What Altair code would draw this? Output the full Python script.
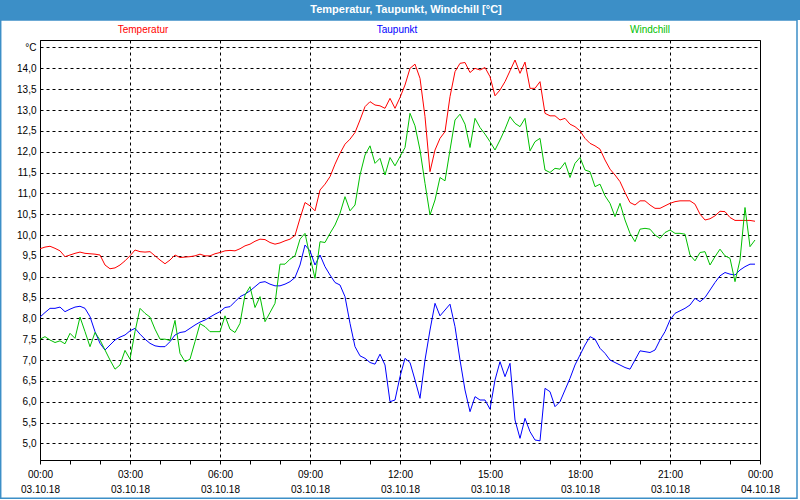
import altair as alt
import pandas as pd

names = ["Temperatur", "Taupunkt", "Windchill"]
colors = ["#ff0000", "#0000ff", "#00c000"]

# time of day in minutes, one reading every 10 minutes (00:00 .. 23:50)
minutes = list(range(0, 1440, 10))

temperatur = [
    9.67, 9.71, 9.73, 9.68, 9.62, 9.48, 9.52, 9.56, 9.59, 9.56, 9.55, 9.54,
    9.52, 9.28, 9.19, 9.21, 9.28, 9.38, 9.50, 9.64, 9.60, 9.59, 9.60, 9.50,
    9.40, 9.31, 9.40, 9.52, 9.46, 9.47, 9.48, 9.50, 9.54, 9.50, 9.50, 9.55,
    9.58, 9.62, 9.63, 9.62, 9.67, 9.74, 9.78, 9.85, 9.90, 9.89, 9.82, 9.78,
    9.81, 9.86, 9.90, 9.99, 10.40, 10.78, 10.70, 10.58, 11.08, 11.22, 11.40, 11.70,
    11.96, 12.18, 12.30, 12.46, 12.76, 13.08, 13.20, 13.12, 13.10, 13.04, 13.28, 13.04,
    13.30, 13.60, 14.00, 14.10, 13.76, 12.84, 11.52, 12.04, 12.32, 12.48, 13.32, 13.92,
    14.12, 14.14, 13.90, 14.00, 13.96, 14.02, 13.80, 13.34, 13.48, 13.68, 13.94, 14.20,
    13.88, 14.15, 13.52, 13.52, 13.68, 12.92, 12.86, 12.86, 12.76, 12.80, 12.66, 12.60,
    12.50, 12.32, 12.20, 12.14, 12.06, 11.80, 11.58, 11.44, 11.28, 11.02, 10.78, 10.72,
    10.82, 10.82, 10.72, 10.64, 10.64, 10.70, 10.76, 10.80, 10.82, 10.82, 10.82, 10.74,
    10.50, 10.36, 10.39, 10.46, 10.57, 10.56, 10.42, 10.35, 10.35, 10.35, 10.35, 10.33,
]

taupunkt = [
    8.03, 8.14, 8.24, 8.24, 8.27, 8.16, 8.22, 8.27, 8.29, 8.24, 8.04, 7.68,
    7.40, 7.24, 7.36, 7.48, 7.55, 7.60, 7.70, 7.76, 7.62, 7.50, 7.40, 7.34,
    7.32, 7.32, 7.44, 7.60, 7.66, 7.68, 7.76, 7.84, 7.91, 7.96, 8.03, 8.10,
    8.16, 8.26, 8.28, 8.40, 8.52, 8.58, 8.66, 8.76, 8.86, 8.88, 8.82, 8.78,
    8.78, 8.82, 8.88, 8.98, 9.28, 9.76, 9.62, 9.28, 9.52, 9.24, 9.04, 8.86,
    8.80, 8.52, 7.88, 7.32, 7.10, 7.04, 6.94, 6.90, 7.14, 6.88, 6.00, 6.04,
    6.60, 7.04, 6.94, 6.52, 6.08, 7.00, 7.72, 8.36, 8.06, 8.20, 8.34, 7.80,
    7.00, 6.28, 5.76, 6.12, 6.04, 6.04, 5.82, 6.52, 6.96, 6.60, 6.92, 5.56,
    5.12, 5.60, 5.28, 5.08, 5.06, 6.32, 6.24, 5.88, 6.00, 6.28, 6.56, 6.88,
    7.12, 7.36, 7.56, 7.50, 7.28, 7.16, 7.00, 6.94, 6.88, 6.82, 6.78, 7.00,
    7.22, 7.20, 7.18, 7.24, 7.48, 7.68, 7.96, 8.12, 8.18, 8.24, 8.32, 8.48,
    8.40, 8.50, 8.68, 8.86, 9.02, 9.10, 9.06, 9.04, 9.16, 9.24, 9.30, 9.30,
]

windchill = [
    7.50, 7.56, 7.48, 7.42, 7.46, 7.39, 7.64, 7.52, 8.03, 7.68, 7.32, 7.66,
    7.48, 7.24, 7.00, 6.78, 6.88, 7.23, 7.02, 7.68, 8.24, 8.12, 8.03, 7.74,
    7.50, 7.50, 7.47, 7.95, 7.16, 6.96, 7.02, 7.44, 7.87, 7.80, 7.68, 7.68,
    7.68, 8.06, 7.74, 7.66, 7.88, 8.56, 8.76, 8.26, 8.52, 7.92, 8.14, 8.36,
    9.30, 9.30, 9.42, 9.50, 9.90, 10.04, 9.48, 8.96, 9.84, 9.82, 10.04, 10.24,
    10.52, 10.92, 10.58, 10.72, 11.44, 11.92, 12.14, 11.72, 11.84, 11.44, 11.86, 11.66,
    11.88, 12.10, 12.92, 12.62, 12.04, 11.24, 10.48, 10.84, 11.38, 11.30, 12.04, 12.76,
    12.90, 12.66, 12.10, 12.80, 12.58, 12.42, 12.24, 12.04, 12.28, 12.54, 12.84, 12.68,
    12.60, 12.80, 12.02, 12.24, 12.32, 11.56, 11.50, 11.60, 11.58, 11.74, 11.38, 11.72,
    11.86, 11.56, 11.52, 11.16, 11.22, 10.94, 10.76, 10.44, 10.76, 10.36, 10.04, 9.84,
    10.14, 10.16, 10.14, 10.00, 9.92, 10.06, 10.12, 10.04, 10.04, 10.02, 9.52, 9.38,
    9.58, 9.60, 9.28, 9.48, 9.66, 9.50, 9.44, 8.88, 9.40, 10.66, 9.72, 9.88,
]

x_grid_values = list(range(0, 1441, 60))
y_grid_values = [5.0 + 0.5 * i for i in range(20)]

title_text = "Temperatur, Taupunkt, Windchill [°C]"

df = pd.DataFrame({
    "t": minutes * 3,
    "v": temperatur + taupunkt + windchill,
    "s": [n for n in names for _ in minutes],
})

FONT = "Liberation Sans Narrow, Liberation Sans, Arial, sans-serif"
BLUE = "#3c8fc7"

x_label = (
    "datum.value % 180 == 0 ? ["
    "(floor(datum.value/60) % 24 < 10 ? '0' : '') + toString(floor(datum.value/60) % 24) + ':00', "
    "datum.value < 1440 ? '03.10.18' : '04.10.18'] : ''"
)
y_label = "datum.value > 14.4 ? '°C' : replace(format(datum.value, '.1f'), '.', ',')"

lines = alt.Chart(df).mark_line(strokeWidth=1, interpolate="linear").encode(
    x=alt.X(
        "t:Q",
        scale=alt.Scale(domain=[0, 1440], nice=False, zero=False),
        axis=alt.Axis(
            values=x_grid_values,
            title=None,
            grid=True,
            gridColor="black",
            gridDash=[3, 3],
            gridWidth=1,
            gridOpacity={"condition": {"test": "datum.value % 180 == 0", "value": 1}, "value": 0},
            domainColor="black",
            tickColor="black",
            tickSize=4,
            labelExpr=x_label,
            labelFont=FONT,
            labelFontSize=10,
            labelColor="black",
            labelLineHeight=15,
            labelPadding=5,
            labelFlush=False,
            labelOverlap=False,
            labelBound=False,
        ),
    ),
    y=alt.Y(
        "v:Q",
        scale=alt.Scale(domain=[4.6, 14.68], nice=False, zero=False),
        axis=alt.Axis(
            values=y_grid_values,
            title=None,
            grid=True,
            gridColor="black",
            gridDash=[3, 3],
            gridWidth=1,
            domainColor="black",
            ticks=False,
            labelExpr=y_label,
            labelFont=FONT,
            labelFontSize=10,
            labelColor="black",
            labelPadding=4,
            labelOverlap=False,
        ),
    ),
    color=alt.Color("s:N", scale=alt.Scale(domain=names, range=colors), legend=None),
)

one = alt.Data(values=[{"a": 1}])

titlebar = alt.Chart(one).mark_rect(color=BLUE).encode(
    x=alt.value(-40), x2=alt.value(760), y=alt.value(-40), y2=alt.value(-20)
)
border = alt.Chart(one).mark_rect(fillOpacity=0, stroke=BLUE, strokeWidth=1.5).encode(
    x=alt.value(-39.3), x2=alt.value(757), y=alt.value(-20), y2=alt.value(458.3)
)
title = alt.Chart(one).mark_text(
    text=title_text, font=FONT, fontSize=11, fontWeight="bold", color="white",
    align="center", baseline="middle"
).encode(x=alt.value(366), y=alt.value(-30))

legend_x = [103, 357, 610]
legend_layers = [
    alt.Chart(one).mark_text(
        text=n, font=FONT, fontSize=10, color=c, align="center", baseline="middle"
    ).encode(x=alt.value(px), y=alt.value(-10))
    for n, c, px in zip(names, colors, legend_x)
]

chart = alt.layer(lines, titlebar, border, title, *legend_layers).properties(
    width=720,
    height=420,
    autosize=alt.AutoSizeParams(type="none"),
    padding={"left": 40, "top": 40, "right": 40, "bottom": 40},
    background="white",
).configure_view(stroke="black", strokeWidth=1)

chart.save("out.html", embed_options={"renderer": "svg", "actions": False})
